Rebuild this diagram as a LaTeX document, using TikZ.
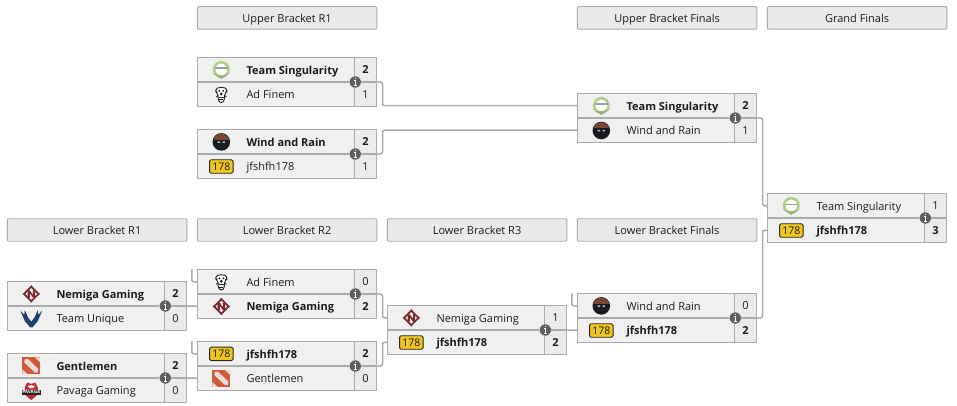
\documentclass[tikz,border=0pt]{standalone}
\usepackage{fontspec}
\setmainfont{Open Sans}
\definecolor{boxfill}{HTML}{F0F0F0}
\definecolor{scorefill}{HTML}{EBEBEB}
\definecolor{headfill}{HTML}{EAEAEA}
\definecolor{edge}{HTML}{ABABAB}
\definecolor{ink}{HTML}{1C1C1C}
\definecolor{laurel}{HTML}{B4CE8C}
\definecolor{nemred}{HTML}{7E2A2A}
\definecolor{uninavy}{HTML}{1F3F6E}
\definecolor{dotared}{HTML}{CE5A3C}
\definecolor{windbrown}{HTML}{7A4530}
\definecolor{winddark}{HTML}{171B22}
\definecolor{gold}{HTML}{F0C61C}
\definecolor{pavred}{HTML}{C2282E}
\tikzset{
  headbox/.style={draw=edge,fill=headfill,line width=0.9pt,outer sep=0pt,rounded corners=1pt,minimum width=179.5pt,minimum height=22.5pt,inner sep=0pt,text height=10pt,text depth=0pt,font=\fontsize{11}{13}\selectfont,text=ink,anchor=north west},
  rowbox/.style={draw=edge,fill=boxfill,line width=0.9pt,outer sep=0pt,minimum width=157pt,minimum height=24.5pt,inner sep=0pt,anchor=north west},
  scorebox/.style={draw=edge,fill=scorefill,line width=0.9pt,outer sep=0pt,minimum width=22.5pt,minimum height=24.5pt,inner sep=0pt,anchor=north west,font=\fontsize{11}{13}\selectfont,text=ink},
  teamtext/.style={inner sep=0pt,anchor=base west,font=\fontsize{11}{13}\selectfont,text=ink},
  infodot/.style={circle,fill=black!63,draw=boxfill,line width=0.4pt,minimum size=12pt,inner sep=0pt},
  conn/.style={draw=edge,line width=1.5pt,rounded corners=2pt},
  midrule/.style={draw=edge,line width=1.7pt},
  pics/singul/.style={code={
    \fill[white] (0,0) circle (8);
    \draw[laurel,line width=2.6pt] (0,-0.5) circle (7.2);
    \fill[black!38] (-6.2,-2.4) rectangle (6.2,-0.6);
    \fill[white] (-5.8,-0.6) rectangle (5.8,2.4);
    \fill[laurel!85!black] (-8.8,3) -- (-2.5,7.5) -- (0,9) -- (2.5,7.5) -- (8.8,3) -- (3.5,5.4) -- (-3.5,5.4) -- cycle;
  }},
  pics/adfinem/.style={code={
    \draw[black!88,fill=white,line width=0.9pt] (-5.5,-4.5) .. controls (-6,-8) and (6,-8) .. (5.5,-4.5) .. controls (5.5,-2) and (3.5,-1) .. (3.2,1) .. controls (3.4,5) and (2.5,8) .. (0,8) .. controls (-2.5,8) and (-3.4,5) .. (-3.2,1) .. controls (-3.5,-1) and (-5.5,-2) .. cycle;
    \draw[black!88,line width=0.8pt] (-6.2,-3) -- (-4,-2.2) (6.2,-3) -- (4,-2.2) (-5.2,2.5) -- (-3.2,1) (5.2,2.5) -- (3.2,1);
    \fill[black!90] (-2,-3.6) circle (1) (2,-3.6) circle (1) (0,-0.6) circle (1.5);
    \draw[black!88,line width=0.8pt] (-2.2,2.8) -- (2.2,2.8);
    \draw[black!88,line width=0.5pt] (-2,5) -- (2,5);
  }},
  pics/windrain/.style={code={
    \fill[winddark] (0,0) circle (8.8);
    \begin{scope}
      \clip (0,0) circle (8.2);
      \fill[windbrown] (-9,-9) rectangle (9,-2.2);
    \end{scope}
    \fill[black!25] (-3.6,-0.6) rectangle (-1.2,0.9) (1.2,-0.6) rectangle (3.6,0.9);
  }},
  pics/oneseventyeight/.style={code={
    \node[draw=black!85,fill=gold,rounded corners=1.5pt,line width=0.9pt,minimum width=23.5pt,minimum height=13.5pt,inner sep=0pt,font=\fontsize{10.5}{12}\selectfont,text=black!90] (-badge) {178};
  }},
  pics/nemiga/.style={code={
    \fill[nemred] (0,-8.8) -- (2,-6.5) -- (6.5,-2) -- (8.8,0) -- (6.5,2) -- (2,6.5) -- (0,8.8) -- (-2,6.5) -- (-6.5,2) -- (-8.8,0) -- (-6.5,-2) -- (-2,-6.5) -- cycle;
    \fill[boxfill] (0,-5.8) -- (5.8,0) -- (0,5.8) -- (-5.8,0) -- cycle;
    \fill[nemred] (-3.8,-3.6) -- (-1.5,-3.6) -- (1.5,0.8) -- (1.5,-3.6) -- (3.8,-3.6) -- (3.8,3.6) -- (1.5,3.6) -- (-1.5,-0.8) -- (-1.5,3.6) -- (-3.8,3.6) -- cycle;
  }},
  pics/unique/.style={code={
    \fill[uninavy] (-1.2,8.8) -- (-6.5,2.5) -- (-11,-8) -- (-7,-3.5) -- (-6.5,-8.5) -- (-3.5,-1.5) -- (0,3.2) -- (3.5,-1.5) -- (6.5,-8.5) -- (7,-3.5) -- (11,-8) -- (6.5,2.5) -- (1.2,8.8) -- cycle;
  }},
  pics/dota/.style={code={
    \fill[dotared] (-9,-8.5) rectangle (9,8.5);
    \fill[boxfill!85!dotared] (-6.5,-6.5) -- (-3.5,-7) -- (7,3) -- (6.5,6.5) -- (3.5,6.5) -- (-7,-3.5) -- cycle;
    \fill[boxfill!85!dotared] (3.5,-8.5) -- (9,-8.5) -- (9,-3.5) -- cycle;
    \fill[boxfill!85!dotared] (-9,3.5) -- (-9,8.5) -- (-3.5,8.5) -- cycle;
  }},
  pics/pavaga/.style={code={
    \fill[pavred] (-6.5,-3) -- (-4,-8) -- (0,-6.5) -- (4,-8) -- (6.5,-3) -- (6.5,2) -- (-6.5,2) -- cycle;
    \fill[white] (-3.5,-4.5) -- (0,-5.5) -- (3.5,-4.5) -- (2,-2.5) -- (-2,-2.5) -- cycle;
    \fill[black!85] (-9.5,-1) rectangle (9.5,4.5);
    \fill[pavred] (-6,4.5) -- (6,4.5) -- (0,9.5) -- cycle;
    \node[inner sep=0pt,text=white,font=\bfseries\fontsize{4.6}{5}\selectfont] (-lab) at (0,1.8) {PAVAGA};
  }},
}
% #1 name, #2 x, #3 y, #4 pic1, #5 team1, #6 score1, #7 pic2, #8 team2, #9 score2
\newcommand{\duel}[9]{%
  \node[rowbox] (#1-a) at (#2,#3) {};
  \node[rowbox] (#1-b) at (#2,#3+24.5) {};
  \node[scorebox] (#1-sa) at (#2+157,#3) {\raisebox{-0.3pt}{#6}};
  \node[scorebox] (#1-sb) at (#2+157,#3+24.5) {\raisebox{-0.3pt}{#9}};
  \draw[midrule] (#1-a.south west) -- (#1-sa.south east);
  \pic (#1-pa) at (#2+24,#3+12.4) {#4};
  \pic (#1-pb) at (#2+24,#3+37) {#7};
  \node[teamtext] (#1-ta) at (#2+49,#3+16.6) {#5};
  \node[teamtext] (#1-tb) at (#2+49,#3+41.2) {#8};
  \node[infodot] (#1-i) at (#2+158,#3+24.5) {};
  \fill[white] (#2+157.2,#3+20.2) rectangle (#2+158.9,#3+21.9);
  \fill[white] (#2+157.2,#3+22.9) rectangle (#2+158.9,#3+27.5);
  \fill[white] (#2+156.2,#3+27.4) rectangle (#2+159.9,#3+28.6);
  \fill[white] (#2+156.2,#3+22.9) rectangle (#2+158,#3+23.9);
}
\begin{document}
\begin{tikzpicture}[x=1pt,y=-1pt]
\useasboundingbox[fill=white] (0,0) rectangle (957,406);
\node[headbox] (h1) at (197.3,6.7) {Upper Bracket R1};
\node[headbox] (h2) at (577.3,6.7) {Upper Bracket Finals};
\node[headbox] (h3) at (767.3,6.7) {Grand Finals};
\node[headbox] (h4) at (7.3,218.7) {Lower Bracket R1};
\node[headbox] (h5) at (197.3,218.7) {Lower Bracket R2};
\node[headbox] (h6) at (387.3,218.7) {Lower Bracket R3};
\node[headbox] (h7) at (577.3,218.7) {Lower Bracket Finals};

\duel{ua}{197.3}{57.5}{singul}{\textbf{Team Singularity}}{\textbf{2}}{adfinem}{Ad Finem}{1}
\duel{ub}{197.3}{129.5}{windrain}{\textbf{Wind and Rain}}{\textbf{2}}{oneseventyeight}{jfshfh178}{1}
\duel{uf}{577.3}{93.5}{singul}{\textbf{Team Singularity}}{\textbf{2}}{windrain}{Wind and Rain}{1}
\duel{gf}{767.3}{193.5}{singul}{Team Singularity}{1}{oneseventyeight}{\textbf{jfshfh178}}{\textbf{3}}
\duel{la}{7.3}{281.5}{nemiga}{\textbf{Nemiga Gaming}}{\textbf{2}}{unique}{Team Unique}{0}
\duel{lb}{7.3}{353.5}{dota}{\textbf{Gentlemen}}{\textbf{2}}{pavaga}{Pavaga Gaming}{0}
\duel{lc}{197.3}{269.5}{adfinem}{Ad Finem}{0}{nemiga}{\textbf{Nemiga Gaming}}{\textbf{2}}
\duel{ld}{197.3}{341.5}{oneseventyeight}{\textbf{jfshfh178}}{\textbf{2}}{dota}{Gentlemen}{0}
\duel{le}{387.3}{305.5}{nemiga}{Nemiga Gaming}{1}{oneseventyeight}{\textbf{jfshfh178}}{\textbf{2}}
\duel{lf}{577.3}{293.5}{windrain}{Wind and Rain}{0}{oneseventyeight}{\textbf{jfshfh178}}{\textbf{2}}

% connectors
\draw[conn] (ua-i.east) -- ++(21,0) |- (uf-a.west);
\draw[conn] (ub-i.east) -- ++(21,0) |- (uf-b.west);
\draw[conn] (uf-i.east) -- ++(21,0) |- (gf-a.west);
\draw[conn] (lf-i.east) -- ++(21,0) |- (gf-b.west);
\draw[conn] (lc-i.east) -- ++(21,0) |- (le-a.west);
\draw[conn] (ld-i.east) -- ++(21,0) |- (le-b.west);
\draw[conn,rounded corners=0pt] (la-i.east) -- (lc-b.west);
\draw[conn,rounded corners=0pt] (lb-i.east) -- (ld-b.west);
\draw[conn,rounded corners=0pt] (le-i.east) -- (lf-b.west);
\draw[conn] (lc-a.west) -- ++(-5.5,0) -- ++(0,-12.5);
\draw[conn] (ld-a.west) -- ++(-5.5,0) -- ++(0,-12.5);
\draw[conn] (lf-a.west) -- ++(-5.5,0) -- ++(0,-12.5);
\end{tikzpicture}
\end{document}
